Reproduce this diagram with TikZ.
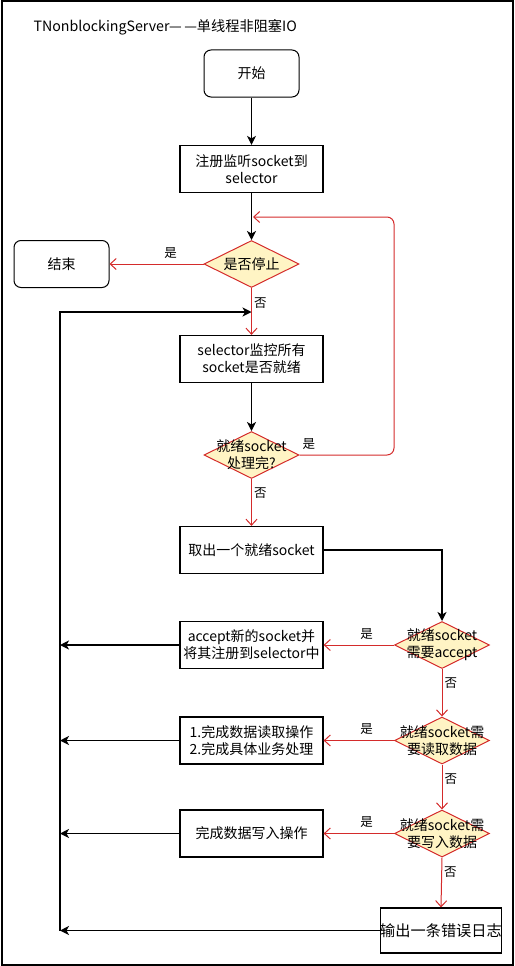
\documentclass[tikz,border=0pt]{standalone}
\usepackage{fontspec}
\setmainfont{Noto Sans CJK SC}
\usetikzlibrary{arrows.meta,shapes.geometric}
\definecolor{linered}{HTML}{D42B2B}
\definecolor{decfill}{HTML}{FFF4C4}
\tikzset{
  procbox/.style={draw, line width=1.2pt, minimum width=143pt, minimum height=47pt, align=center, inner sep=2pt},
  termbox/.style={draw, rounded corners=7pt, line width=1pt, minimum width=95pt, minimum height=47pt},
  decision/.style={diamond, draw=linered, fill=decfill, line width=1pt, minimum width=95pt, minimum height=47pt, inner sep=0pt},
  blk/.style={line width=1.2pt, -{Stealth[length=9pt,width=9pt,inset=2.5pt]}},
  redline/.style={draw=linered, line width=1pt, -{Straight Barb[length=6pt,width=11pt]}},
  answer/.style={font=\fontsize{12.5}{14}\selectfont, inner sep=2pt}
}

\begin{document}
\begin{tikzpicture}[x=1pt, y=-1pt, every node/.style={font=\fontsize{14}{17}\selectfont}]
  \useasboundingbox (0,0) rectangle (514,966);
  \draw [line width=2pt] (1.5,1.5) rectangle (512.5,964.5);
  \node [anchor=west, font=\fontsize{14.2}{16}\selectfont] (title) at (30,27) {TNonblockingServer—\,—单线程非阻塞IO};
  % main column:
  \node [termbox] (start) at (251.5,73.5) {开始};
  \node [procbox] (reg) at (251.5,169) {注册监听socket到\\selector};
  \node [decision, label={center:是否停止}] (stop) at (251.5,264) {};
  \node [termbox] (end) at (61.5,264) {结束};
  \node [procbox] (watch) at (251.5,359) {selector监控所有\\socket是否就绪};
  \node [decision, label={[align=center]center:就绪socket\\处理完?}] (done) at (251.5,455) {};
  \node [procbox] (take) at (251.5,550) {取出一个就绪socket};
  % right column, one row per kind of event:
  \foreach \n/\y/\q/\job in {acc/645/就绪socket\\需要accept/accept新的socket并\\将其注册到selector中,
                             rd/740.5/就绪socket需\\要读取数据/1.完成数据读取操作\\2.完成具体业务处理,
                             wr/833.5/就绪socket需\\要写入数据/完成数据写入操作} {
    \node [decision, label={[align=center]center:\q}] (\n) at (442,\y) {};
    \node [procbox] (\n-job) at (251.5,\y) {\job};
  }
  \node [procbox, minimum width=118pt, minimum height=45pt, inner sep=0pt, font=\fontsize{15.2}{18}\selectfont] (log) at (441,930.5) {输出一条错误日志};
  \coordinate (loopin) at (253,217);
  \coordinate (loopcorner) at (394,217);
  \coordinate (bustop) at (60,312);
  \coordinate (busbot) at (60,930.5);
  % edges:
  \draw [blk] (start) -- (reg);
  \draw [blk] (reg) -- (stop);
  \draw [redline] (stop.west) -- node [answer, pos=0.35, above=3pt] {是} (end.east);
  \draw [redline] (stop.south) -- node [answer, pos=0.33, right] {否} (watch.north);
  \draw [blk] (watch) -- (done);
  \draw [redline, rounded corners=7pt] (done.east) -| node [answer, pos=0.05, above=3pt] {是} (loopcorner) -- (loopin);
  \draw [redline] (done.south) -- node [answer, pos=0.31, right] {否} (take.north);
  \draw [blk] (take.east) -| (acc.north);
  \draw [redline] (acc.south) -- node [answer, pos=0.3, right] {否} (rd.north);
  \draw [redline] (rd.south) -- node [answer, pos=0.33, right] {否} (wr.north);
  \draw [redline] (wr.south) -- node [answer, pos=0.3, right] {否} (log.north);
  \foreach \n in {acc,rd,wr}
    \draw [redline] (\n.west) -- node [answer, pos=0.39, above=3pt] {是} (\n-job.east);
  % everything goes back to the selector:
  \foreach \n in {acc-job,rd-job,wr-job,log}
    \draw [blk] (\n.west) -- (bustop |- \n.west);
  \draw [blk] (busbot) -- (bustop) -- (bustop -| stop.south);
\end{tikzpicture}
\end{document}
